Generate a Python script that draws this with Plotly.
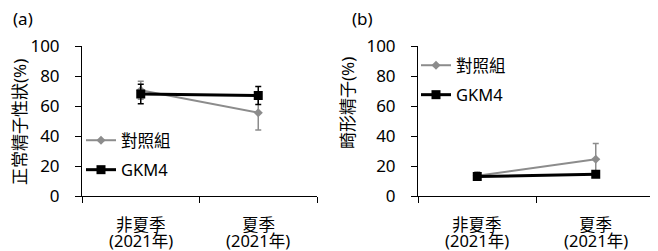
import plotly.graph_objects as go

categories = ["非夏季", "夏季"]
year_labels = ["(2021年)", "(2021年)"]
series_names = ["對照組", "GKM4"]

# Panel (a): 正常精子性狀(%)
a_ctrl = [70.5, 55.5]
a_ctrl_err = [6, 11.5]
a_gkm4 = [68, 67]
a_gkm4_err = [6.5, 6]

# Panel (b): 畸形精子(%)
b_ctrl = [13.5, 24.5]
b_ctrl_err = [2.5, 10.5]
b_gkm4 = [13, 14.5]
b_gkm4_err = [2.5, 2]

y_titles = ["正常精子性狀(%)", "畸形精子(%)"]
panel_labels = ["(a)", "(b)"]
y_ticks = [0, 20, 40, 60, 80, 100]

# page has an 8px body margin: map target pixel positions into the figure
OFF = 8
W, H = 658 - OFF, 251 - OFF
def fx(px):
    return (px - OFF) / W
def fy(py):
    return 1 - (py - OFF) / H

FONT = "Noto Sans, Noto Sans CJK TC, sans-serif"
GRAY = "#8c8c8c"

fig = go.Figure()

def add_pair(ctrl, ctrl_err, gk, gk_err, xa, ya, leg):
    fig.add_trace(go.Scatter(
        x=categories, y=ctrl, name=series_names[0], xaxis=xa, yaxis=ya, legend=leg,
        mode="lines+markers",
        line=dict(color=GRAY, width=2),
        marker=dict(symbol="diamond", size=7, color=GRAY),
        error_y=dict(type="data", array=ctrl_err, color=GRAY, thickness=1.5, width=3),
        legendgroup=leg + "c",
    ))
    fig.add_trace(go.Scatter(
        x=categories, y=gk, name=series_names[1], xaxis=xa, yaxis=ya, legend=leg,
        mode="lines+markers",
        line=dict(color="black", width=3),
        marker=dict(symbol="square", size=9, color="black"),
        error_y=dict(type="data", array=gk_err, color="black", thickness=1.5, width=3),
        legendgroup=leg + "g",
    ))

add_pair(a_ctrl, a_ctrl_err, a_gkm4, a_gkm4_err, "x", "y", "legend")
add_pair(b_ctrl, b_ctrl_err, b_gkm4, b_gkm4_err, "x2", "y2", "legend2")

ydom = [fy(196), fy(46)]
xdoms = [[fx(82), fx(317)], [fx(418), fx(655)]]

axis_common = dict(showline=True, linecolor="black", linewidth=1, showgrid=False, zeroline=False,
                   ticks="outside", ticklen=6, tickcolor="black", tickwidth=1, automargin=False)

layout = dict(
    width=W, height=H,
    margin=dict(l=0, r=0, t=0, b=0, pad=0, autoexpand=False),
    paper_bgcolor="white", plot_bgcolor="white",
    font=dict(family=FONT, size=16, color="black"),
    showlegend=True,
)
for i, (xa, ya) in enumerate([("xaxis", "yaxis"), ("xaxis2", "yaxis2")]):
    layout[xa] = dict(axis_common, domain=xdoms[i], type="category", range=[-0.5, 1.5],
                      tickson="boundaries", showticklabels=False,
                      anchor="y" if i == 0 else "y2")
    layout[ya] = dict(axis_common, domain=ydom, range=[0, 100], tickvals=y_ticks,
                      ticklabelstandoff=12, tickfont=dict(size=17, family=FONT),
                      anchor="x" if i == 0 else "x2")

layout["legend"] = dict(x=fx(81), y=fy(123), xanchor="left", yanchor="top",
                        bgcolor="rgba(0,0,0,0)", font=dict(size=16.5, family=FONT),
                        itemwidth=30, tracegroupgap=5)
layout["legend2"] = dict(x=fx(416), y=fy(48), xanchor="left", yanchor="top",
                         bgcolor="rgba(0,0,0,0)", font=dict(size=16.5, family=FONT),
                         itemwidth=30, tracegroupgap=5)
fig.update_layout(**layout)

annotations = []
for i, xr in enumerate(["x", "x2"]):
    for c, cat in enumerate(categories):
        annotations.append(dict(x=cat, xref=xr, y=fy(224.5), yref="paper", text=cat,
                                showarrow=False, xanchor="center", yanchor="middle",
                                borderpad=0, font=dict(size=16.5, family=FONT)))
        annotations.append(dict(x=cat, xref=xr, y=fy(240), yref="paper", text=year_labels[c],
                                showarrow=False, xanchor="center", yanchor="middle",
                                borderpad=0, font=dict(size=16.5, family=FONT)))
annotations.append(dict(x=fx(19), y=fy(122), xref="paper", yref="paper", text=y_titles[0],
                        textangle=-90, showarrow=False, xanchor="center", yanchor="middle",
                        borderpad=0, font=dict(size=17, family=FONT)))
annotations.append(dict(x=fx(347), y=fy(103), xref="paper", yref="paper", text=y_titles[1],
                        textangle=-90, showarrow=False, xanchor="center", yanchor="middle",
                        borderpad=0, font=dict(size=17, family=FONT)))
annotations.append(dict(x=fx(23), y=fy(18), xref="paper", yref="paper", text=panel_labels[0],
                        showarrow=False, xanchor="center", yanchor="middle", font=dict(size=17, family=FONT)))
annotations.append(dict(x=fx(362), y=fy(18), xref="paper", yref="paper", text=panel_labels[1],
                        showarrow=False, xanchor="center", yanchor="middle", font=dict(size=17, family=FONT)))
fig.update_layout(annotations=annotations)

fig.write_html("out.html")
